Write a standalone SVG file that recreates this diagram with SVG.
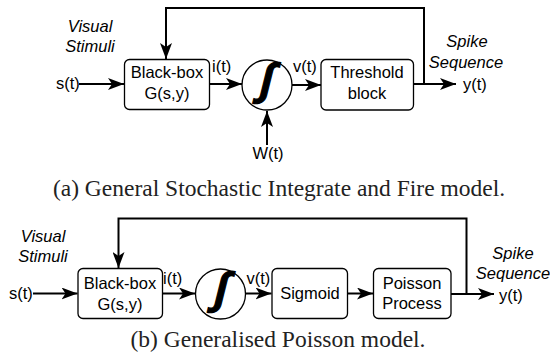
<svg xmlns="http://www.w3.org/2000/svg" width="550" height="358" viewBox="0 0 550 358">
<defs>
<marker id="arr" markerWidth="16" markerHeight="12" refX="16" refY="6" orient="auto" markerUnits="userSpaceOnUse">
<path d="M0,0 L16,6 L0,12 L4,6 Z" fill="#000"/>
</marker>
<style>
.box{fill:#fff;stroke:#000;stroke-width:1.3}
.circ{fill:#fff;stroke:#000;stroke-width:1.3}
.ln{fill:none;stroke:#000;stroke-width:2}
.ar{fill:none;stroke:#000;stroke-width:2;marker-end:url(#arr)}
.t{font-family:"Liberation Sans",Arial,sans-serif;font-size:16.5px;fill:#000}
.m{text-anchor:middle}
.it{font-style:italic}
.int{font-family:"Liberation Sans",Arial,sans-serif;font-weight:bold;font-size:44px;text-anchor:middle;fill:#000;stroke:#000;stroke-width:1.2}
.cap{font-family:"Liberation Serif","Times New Roman",serif;font-size:23.5px;fill:#222;text-anchor:middle}
</style>
</defs>

<!-- Diagram (a) -->
<g id="connectors-a">
<path class="ar" d="M424,84 V8 H166 V59"/>
<path class="ar" d="M79,84 H124"/>
<path class="ar" d="M209,84 H242"/>
<path class="ar" d="M292,85 H321"/>
<path class="ar" d="M267,145 V111"/>
<path class="ar" d="M413.5,84 H456"/>
</g>
<g id="a-stimuli">
<text class="t it m" x="90" y="32">Visual</text>
<text class="t it m" x="90" y="52">Stimuli</text>
<text class="t" x="56" y="89">s(t)</text>
</g>
<g id="a-blackbox">
<rect class="box" x="124.5" y="59.5" width="85" height="50" rx="5"/>
<text class="t m" x="167" y="77.5">Black-box</text>
<text class="t m" x="167" y="99">G(s,y)</text>
</g>
<g id="a-it"><text class="t" x="212" y="72">i(t)</text></g>
<g id="a-integrator">
<circle class="circ" cx="267" cy="85" r="25"/>
<text class="int" x="266" y="94" transform="translate(266,85) skewX(-14) translate(-266,-85)">∫</text>
</g>
<g id="a-vt"><text class="t" x="293" y="72">v(t)</text></g>
<g id="a-wt"><text class="t m" x="268" y="159">W(t)</text></g>
<g id="a-threshold">
<rect class="box" x="321" y="59.5" width="92.5" height="50.5" rx="5"/>
<text class="t m" x="367" y="78">Threshold</text>
<text class="t m" x="367" y="99">block</text>
</g>
<g id="a-output">
<text class="t it m" x="467" y="47">Spike</text>
<text class="t it m" x="466" y="68">Sequence</text>
<text class="t" x="463" y="90">y(t)</text>
</g>
<text class="cap" x="279" y="196">(a)  General Stochastic Integrate and Fire model.</text>

<!-- Diagram (b) -->
<g id="connectors-b">
<path class="ar" d="M466.5,294 V218.5 H118.5 V268"/>
<path class="ar" d="M33,293.5 H77.5"/>
<path class="ar" d="M162.5,293.5 H195"/>
<path class="ar" d="M245.5,293.5 H271.5"/>
<path class="ar" d="M347.5,293.5 H373"/>
<path class="ar" d="M451,294 H494"/>
</g>
<g id="b-stimuli">
<text class="t it m" x="43" y="242">Visual</text>
<text class="t it m" x="43" y="262">Stimuli</text>
<text class="t" x="9" y="299">s(t)</text>
</g>
<g id="b-blackbox">
<rect class="box" x="78" y="268.5" width="84.5" height="50" rx="5"/>
<text class="t m" x="120" y="288.5">Black-box</text>
<text class="t m" x="120" y="309.5">G(s,y)</text>
</g>
<g id="b-it"><text class="t" x="163" y="283.5">i(t)</text></g>
<g id="b-integrator">
<circle class="circ" cx="220.5" cy="294" r="25"/>
<text class="int" x="220.5" y="303" transform="translate(220.5,294) skewX(-14) translate(-220.5,-294)">∫</text>
</g>
<g id="b-vt"><text class="t" x="246.5" y="283.5">v(t)</text></g>
<g id="b-sigmoid">
<rect class="box" x="272" y="268.5" width="75.5" height="50" rx="5"/>
<text class="t m" x="310" y="299">Sigmoid</text>
</g>
<g id="b-poisson">
<rect class="box" x="373.5" y="268.5" width="77.5" height="50" rx="5"/>
<text class="t m" x="412" y="288.5">Poisson</text>
<text class="t m" x="412" y="309">Process</text>
</g>
<g id="b-output">
<text class="t it m" x="513" y="258.5">Spike</text>
<text class="t it m" x="513" y="279">Sequence</text>
<text class="t" x="499" y="300.5">y(t)</text>
</g>
<text class="cap" x="278" y="347">(b)  Generalised Poisson model.</text>
</svg>
